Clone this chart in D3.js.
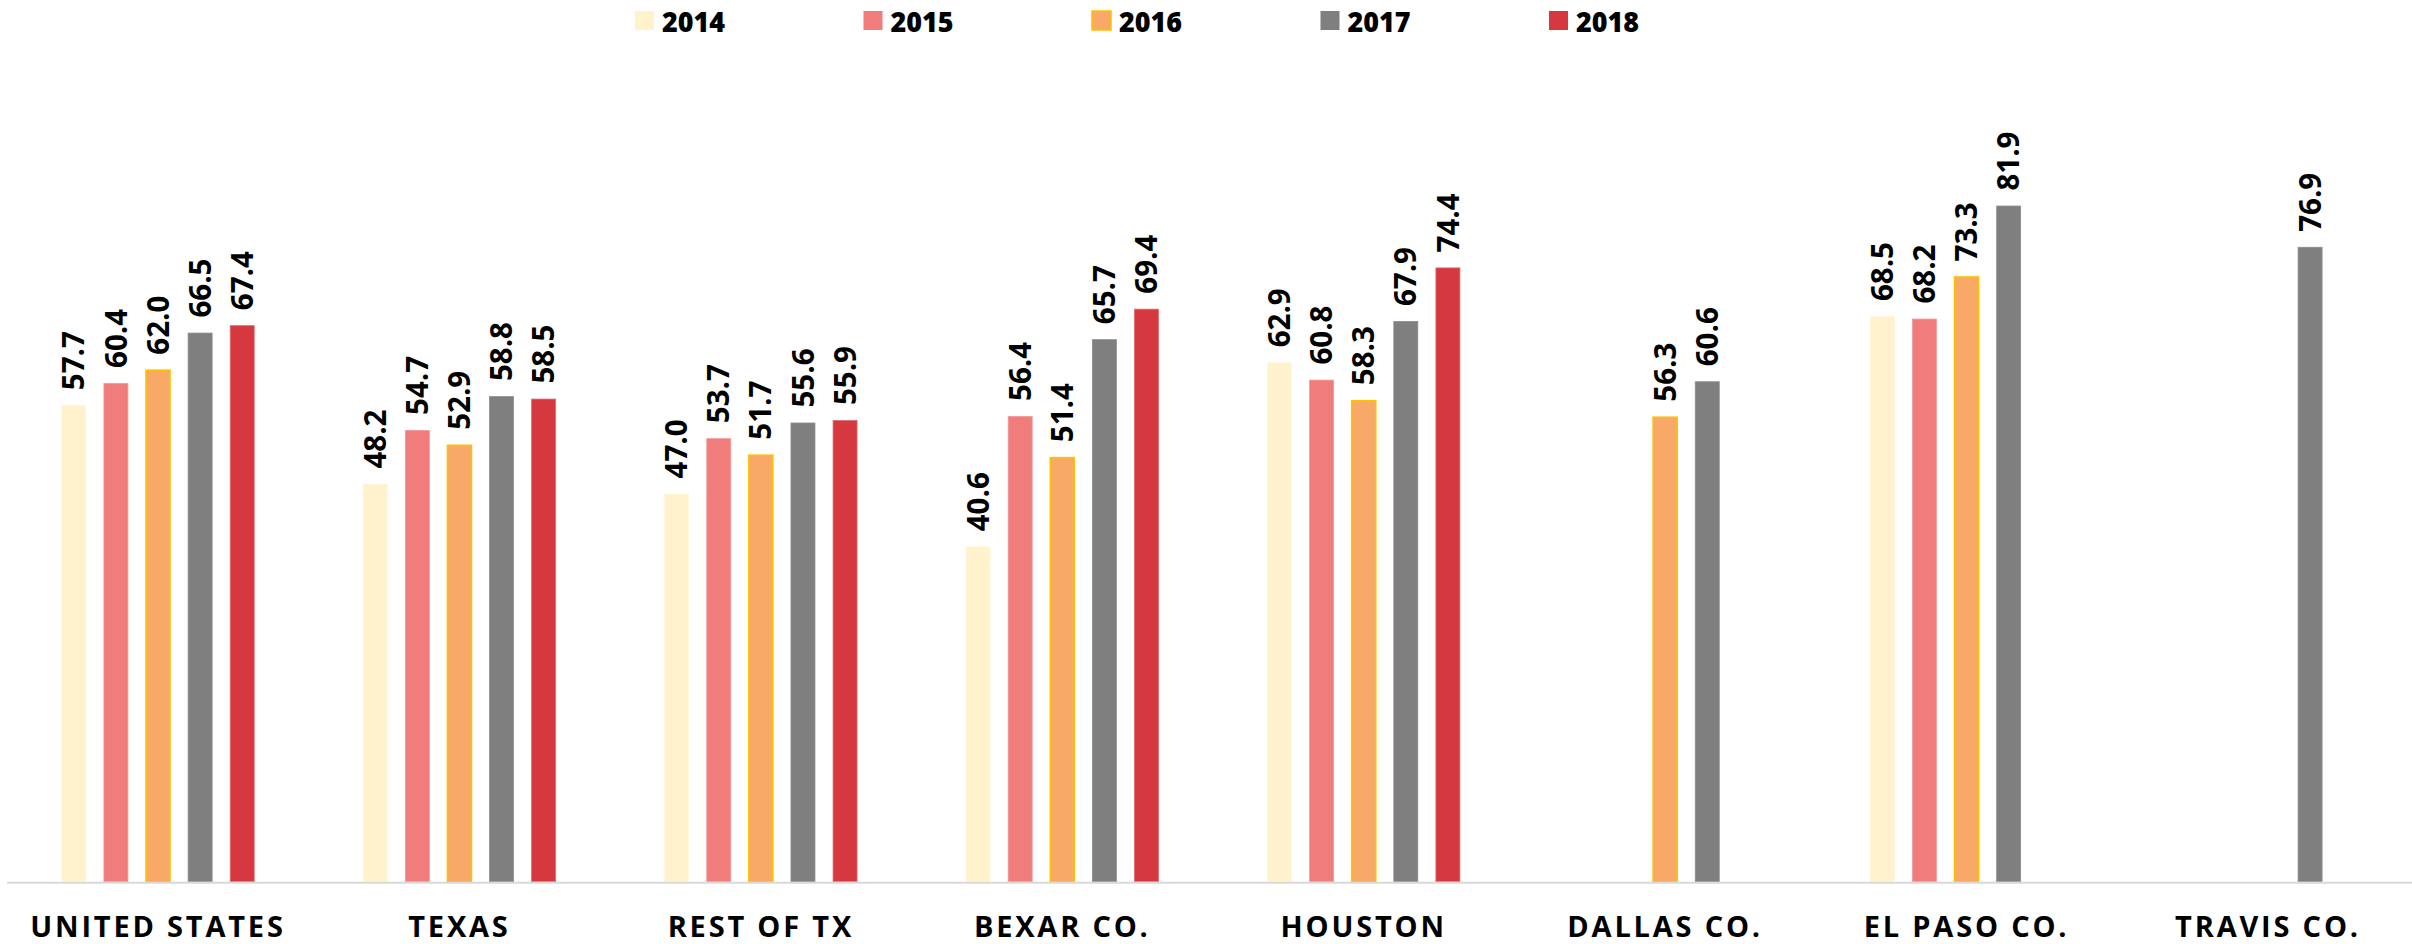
<!DOCTYPE html>
<html>
<head>
<script src="https://d3js.org/d3.v7.min.js"></script>
<title>Grouped bars 2014-2018</title>
<style type="text/css">
body {
  margin: 0;
  background: #fff;
}
.bar-label {
  font-family: "Open Sans", sans-serif;
  font-weight: 700;
  font-size: 29.5px;
  fill: #000;
}
.axis-label {
  font-family: "Open Sans", sans-serif;
  font-weight: 700;
  font-size: 29px;
  letter-spacing: 2.8px;
  fill: #000;
}
.legend-label {
  font-family: "Open Sans", sans-serif;
  font-weight: 800;
  font-size: 28.5px;
  fill: #000;
}
</style>
</head>
<body>
<svg id="chart"></svg>

<script>
var width = 2412,
    height = 944;

// data
var categories = ["UNITED STATES", "TEXAS", "REST OF TX", "BEXAR CO.", "HOUSTON", "DALLAS CO.", "EL PASO CO.", "TRAVIS CO."];
var years = ["2014", "2015", "2016", "2017", "2018"];
var v2014 = [57.7, 48.2, 47.0, 40.6, 62.9, null, 68.5, null];
var v2015 = [60.4, 54.7, 53.7, 56.4, 60.8, null, 68.2, null];
var v2016 = [62.0, 52.9, 51.7, 51.4, 58.3, 56.3, 73.3, null];
var v2017 = [66.5, 58.8, 55.6, 65.7, 67.9, 60.6, 81.9, 76.9];
var v2018 = [67.4, 58.5, 55.9, 69.4, 74.4, null, null, null];
var series = [v2014, v2015, v2016, v2017, v2018];

var fills = ["#fff2cc", "#f07c7c", "#f8a968", "#7f7f7f", "#d5393f"];
var strokes = ["#fff6dc", "#f29a9a", "#ffc000", "#8c8c8c", "#e06a6e"];

var svg = d3.select("#chart")
  .attr("width", width)
  .attr("height", height);

var baseY = 881.7;

var x0 = d3.scaleBand()
  .domain(categories)
  .range([7.3, 2418.7])
  .padding(0);

var x1 = d3.scalePoint()
  .domain(years)
  .range([-84.2, 84.2]);

var y = d3.scaleLinear()
  .domain([0, 90])
  .range([baseY, baseY - 742.5]);

var barW = 24;

// flatten to one record per bar
var bars = [];
categories.forEach(function(c, i) {
  years.forEach(function(yr, j) {
    if (series[j][i] != null) {
      bars.push({cat: c, year: yr, idx: j, value: series[j][i]});
    }
  });
});

function cx(d) {
  return x0(d.cat) + x0.bandwidth() / 2 + x1(d.year);
}

var g = svg.append("g");

g.selectAll("rect.bar")
    .data(bars)
  .enter().append("rect")
    .attr("class", "bar")
    .attr("x", function(d) { return cx(d) - barW / 2; })
    .attr("y", function(d) { return y(d.value); })
    .attr("width", barW)
    .attr("height", function(d) { return baseY - y(d.value); })
    .style("fill", function(d) { return fills[d.idx]; })
    .style("stroke", function(d) { return strokes[d.idx]; })
    .style("stroke-width", function(d) { return d.idx === 2 ? 1.6 : 0.8; });

// baseline
svg.append("line")
  .attr("x1", 7)
  .attr("x2", width)
  .attr("y1", baseY + 1)
  .attr("y2", baseY + 1)
  .style("stroke", "#d9d9d9")
  .style("stroke-width", 2);

// value labels, rotated
g.selectAll("text.bar-label")
    .data(bars)
  .enter().append("text")
    .attr("class", "bar-label")
    .attr("transform", function(d) {
      return "translate(" + cx(d) + "," + (y(d.value) - 15.5) + ") rotate(-90)";
    })
    .attr("dy", "0.36em")
    .attr("text-anchor", "start")
    .text(function(d) { return d3.format(".1f")(d.value); });

// category labels
svg.selectAll("text.axis-label")
    .data(categories)
  .enter().append("text")
    .attr("class", "axis-label")
    .attr("x", function(d) { return x0(d) + x0.bandwidth() / 2; })
    .attr("y", 937)
    .attr("text-anchor", "middle")
    .text(function(d) { return d; });

// legend
var legend = svg.append("g")
  .attr("transform", "translate(635,11)");

var item = legend.selectAll("g")
    .data(years)
  .enter().append("g")
    .attr("transform", function(d, i) { return "translate(" + (i * 228.5) + ",0)"; });

item.append("rect")
  .attr("width", 19)
  .attr("height", 19)
  .style("fill", function(d, i) { return fills[i]; })
  .style("stroke", function(d, i) { return i === 2 ? "#ffc000" : "none"; })
  .style("stroke-width", 1.5);

item.append("text")
  .attr("class", "legend-label")
  .attr("x", 27)
  .attr("y", 20.5)
  .attr("textLength", 63)
  .attr("lengthAdjust", "spacingAndGlyphs")
  .text(function(d) { return d; });
</script>
</body>
</html>
